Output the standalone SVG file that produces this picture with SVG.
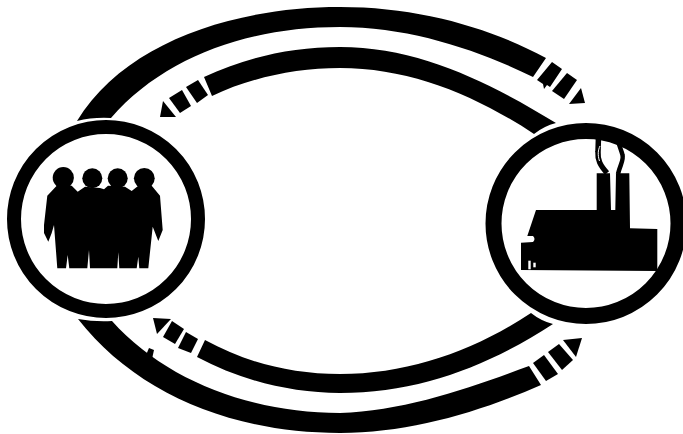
<svg xmlns="http://www.w3.org/2000/svg" width="683" height="434" viewBox="0 0 683 434">
<style>
.k{fill:#000}
.ring{fill:none;stroke:#000}
.smoke{fill:none;stroke:#000}
.w{fill:#fff}
</style>
<rect width="683" height="434" fill="#fff"/>
<g id="connectors">
<g id="top-outer" class="k">
<path d="M77 121C125 42 235 7 340 7C420 7 490 28 546 58L533 77C478 50 410 27 340 27C250 27 165 56 111 118Q93 117 77 121Z"/>
<polygon points="552,62 562,69 550,87 547,85 544,89 543,84 537,80"/>
<polygon points="567,73 577,80 564,99 552,91"/>
<polygon points="581,88 585,103 569,104"/>
</g>
<g id="top-inner" class="k">
<path d="M204 77C245 58 290 47 340 47C420 47 490 83 556 123Q544 126 534 134C475 95 410 68 340 68C295 68 250 78 212 96Z"/>
<polygon points="186,87 198,80 208,95 197,103"/>
<polygon points="169,98 182,90 191,106 180,113"/>
<polygon points="163,101 176,117 160,117"/>
</g>
<g id="bottom-inner" class="k">
<path d="M205 340C245 362 290 374 340 374C410 374 475 350 531 313Q541 321 553 324C490 365 420 393 340 393C290 393 240 380 197 357Z"/>
<polygon points="186,332 198,339 191,353 178,348"/>
<polygon points="172,321 184,329 175,344 163,337"/>
<polygon points="153,318 171,319 157,334"/>
</g>
<g id="bottom-outer" class="k">
<path d="M78 319Q95 322 112 321C165 380 250 413 340 413C405 411 470 388 529 366L541 385C480 412 410 433 340 433C230 433 135 392 78 319Z"/>
<polygon points="146,355 149,348 154,350 152,359"/>
<polygon points="533,363 544,355 558,374 546,381"/>
<polygon points="548,352 559,344 573,360 562,370"/>
<polygon points="563,340 582,338 576,357"/>
</g>
</g>
<g id="people">
<circle class="ring" cx="106" cy="219" r="92" stroke-width="14"/>
<g class="k">
<circle cx="63.3" cy="177.7" r="10.6"/>
<circle cx="92.3" cy="178.3" r="10"/>
<circle cx="117.7" cy="178.3" r="10"/>
<circle cx="144.3" cy="178.3" r="10.4"/>
<path d="M47.3 195.7L56.7 185.7L71.7 185.7L77.700 191.700L85 186.700L100 188L104 189.300L108 185.700L125 186.700L131.700 191L138.300 185.700L151.700 185.700L160 195.700L162.700 230L158.300 241L154 230L152.700 226.700L148.300 268.300L139.300 268.300L138.300 256.700L136.700 268.300L119.300 268.300L118.300 252.300L117.300 268.300L90 268.300L89 250L87.300 268.300L69.300 268.300L67.700 255L66 268.300L57.300 268.300L54 225L51.700 233L48.300 241.700L44 233L44 225Z"/>
</g>
</g>
<g id="factory">
<g class="k">
<path d="M536 210L596.700 210L596.700 173.300L610 173.300L611 210L615.300 210L616 173.300L629.300 173.300L630 228.300L657.300 229L657.300 271L521 270L521 242.700L533 242Q536 239 533 236L527.300 236Z"/>
</g>
<polygon class="w" points="528.300,260.700 530.700,260.700 530.700,269.300 528.300,269.300"/>
<polygon class="w" points="533.300,262.700 535.700,262.700 535.700,267.300 533.300,267.300"/>
<g id="smoke">
<path class="smoke" stroke-width="5.500" d="M607 173C600 165 597.500 160 598 152L598.500 136"/>
<path fill="none" stroke="#fff" stroke-width="1" d="M599.500 161C597.500 155 598 150 600 146"/>
<path class="smoke" stroke-width="4.500" d="M618 174C620 165 624 160 622.500 155C621.500 151 620 148 618 141"/>
</g>
<circle class="ring" cx="586" cy="223.500" r="92.500" stroke-width="16"/>
</g>
</svg>
